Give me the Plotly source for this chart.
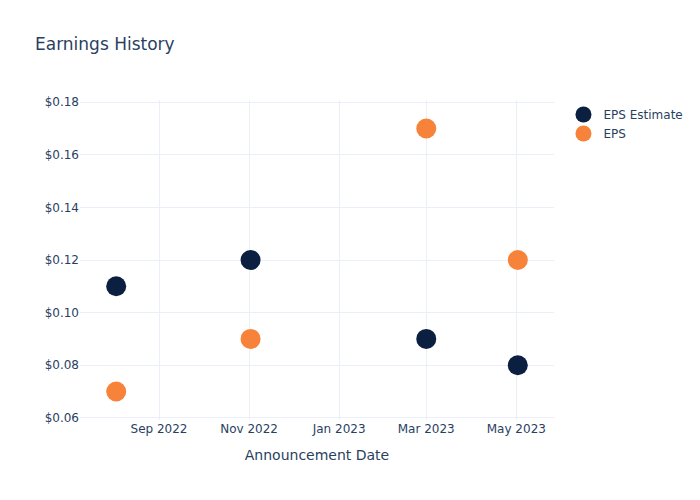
import plotly.graph_objects as go

dates = ["2022-08-03", "2022-11-02", "2023-03-01", "2023-05-02"]
eps_estimate = [0.11, 0.12, 0.09, 0.08]
eps_actual = [0.07, 0.09, 0.17, 0.12]

fig = go.Figure()
fig.add_trace(go.Scatter(x=dates, y=eps_estimate, mode="markers", name="EPS Estimate",
                         marker=dict(size=20, color="#0b1f41")))
fig.add_trace(go.Scatter(x=dates, y=eps_actual, mode="markers", name="EPS",
                         marker=dict(size=20, color="#f7833a")))
fig.update_layout(
    template="plotly_white",
    width=700, height=500,
    font=dict(family="DejaVu Sans"),
    title=dict(text="Earnings History"),
    xaxis=dict(title=dict(text="Announcement Date")),
    yaxis=dict(tickprefix="$", tickformat=".2f"),
)
fig.write_html("out.html", config={"displayModeBar": False},
               post_script="document.body.style.margin='0';")
